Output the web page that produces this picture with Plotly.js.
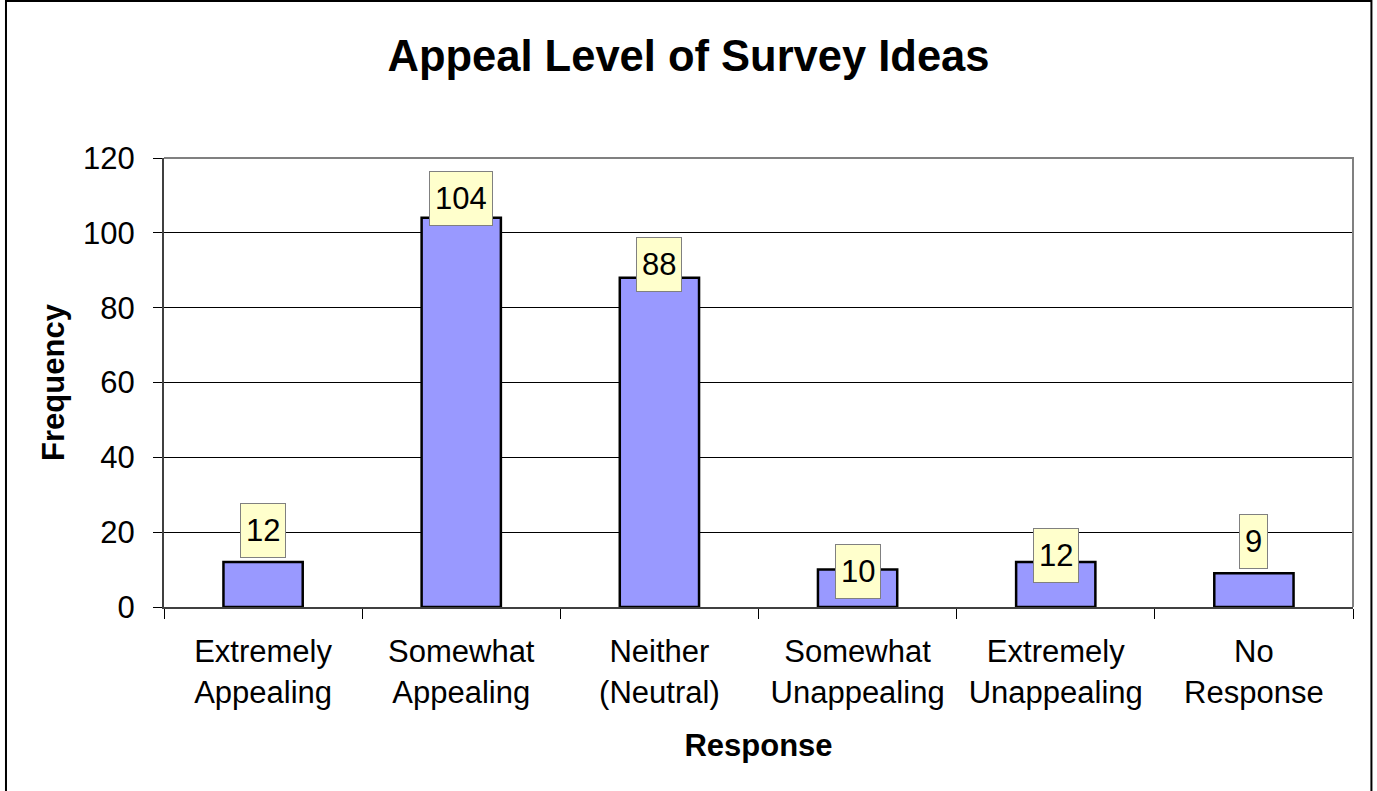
<!DOCTYPE html>
<html>
<head>
<meta charset="utf-8">
<script src="https://cdn.plot.ly/plotly-3.0.1.min.js"></script>
<style>
html,body{margin:0;padding:0;background:#fff;}
#chart{width:1377px;height:791px;}
</style>
</head>
<body>
<div id="chart"></div>
<script>
// ---- data ----
const categories = [
  "Extremely<br>Appealing",
  "Somewhat<br>Appealing",
  "Neither<br>(Neutral)",
  "Somewhat<br>Unappealing",
  "Extremely<br>Unappealing",
  "No<br>Response"
];
const frequency = [12, 104, 88, 10, 12, 9];
const yTickValues = [0, 20, 40, 60, 80, 100, 120];

// ---- label placement (pixels, style only) ----
const labelShift = [32, 19, 13, -2, 7, 32];

const FONT = "Liberation Sans, Arial, sans-serif";

const trace = {
  type: "bar",
  x: categories,
  y: frequency,
  marker: { color: "#9999FF", line: { color: "#000000", width: 2.5 } },
  hoverinfo: "x+y"
};

const annotations = categories.map((c, i) => ({
  x: c,
  y: frequency[i],
  xref: "x",
  yref: "y",
  text: String(frequency[i]),
  showarrow: false,
  yanchor: "middle",
  xanchor: "center",
  yshift: labelShift[i],
  font: { family: FONT, size: 31, color: "#000" },
  bgcolor: "#FFFFCC",
  bordercolor: "#808080",
  borderwidth: 1,
  borderpad: 5,
  height: 43
}));

const layout = {
  width: 1377,
  height: 791,
  margin: { l: 164, r: 24, t: 158, b: 184 },
  paper_bgcolor: "#ffffff",
  plot_bgcolor: "#ffffff",
  showlegend: false,
  bargap: 0.6,
  font: { family: FONT, color: "#000" },
  title: {
    text: "<b>Appeal Level of Survey Ideas</b>",
    font: { family: FONT, size: 43.5, color: "#000" },
    x: 0.5, xanchor: "center",
    y: 0.93, yanchor: "middle", yref: "container"
  },
  xaxis: {
    type: "category",
    tickson: "boundaries",
    ticks: "outside",
    ticklen: 10,
    tickcolor: "#000",
    tickwidth: 1,
    ticklabelstandoff: 16,
    showline: true,
    linecolor: "#404040",
    linewidth: 2,
    showgrid: false,
    tickfont: { family: FONT, size: 31, color: "#000" },
    title: { text: "<b>Response</b>", font: { family: FONT, size: 31, color: "#000" }, standoff: 26 }
  },
  yaxis: {
    range: [0, 120],
    tickvals: yTickValues,
    ticks: "outside",
    ticklen: 9,
    tickcolor: "#000",
    tickwidth: 1,
    ticklabelstandoff: 12,
    showline: true,
    linecolor: "#404040",
    linewidth: 2,
    showgrid: true,
    gridcolor: "#000000",
    gridwidth: 1,
    zeroline: false,
    tickfont: { family: FONT, size: 31, color: "#000" },
    title: { text: "<b>Frequency</b>", font: { family: FONT, size: 31, color: "#000" }, standoff: 9 }
  },
  shapes: [
    {
      type: "path", xref: "paper", yref: "paper", layer: "above",
      path: "M 0 1 L 1 1 L 1 0",
      line: { color: "#808080", width: 2 }
    },
    {
      type: "rect", xref: "paper", yref: "paper", layer: "above",
      x0: -0.1329, x1: 1.0155, y0: -0.5, y1: 1.3495,
      line: { color: "#000000", width: 2 }, fillcolor: "rgba(0,0,0,0)"
    }
  ],
  annotations: annotations
};

Plotly.newPlot("chart", [trace], layout, { displayModeBar: false, staticPlot: true });
</script>
</body>
</html>
